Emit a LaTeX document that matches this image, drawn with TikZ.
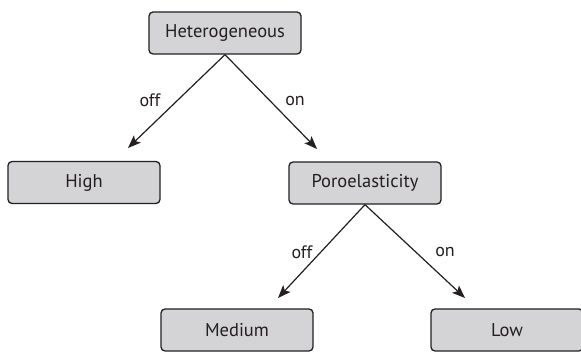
\documentclass[tikz,border=0pt]{standalone}
\usepackage{fontspec}
\setmainfont{PT Sans}
\usepackage{xcolor}
\usetikzlibrary{arrows.meta}

\definecolor{boxgray}{RGB}{212,212,214}
\definecolor{edgegray}{RGB}{35,31,32}

\begin{document}
\begin{tikzpicture}[x=1pt, y=-1pt,
    statebox/.style={draw=edgegray, fill=boxgray, line width=1.3pt, rounded corners=4pt,
        minimum width=152pt, minimum height=42pt, inner sep=0pt, text=edgegray,
        font=\fontsize{18.5}{22}\selectfont},
    branch/.style={-{Stealth[length=13pt, width=10pt, inset=3pt]}, line width=1.2pt, draw=edgegray},
    tag/.style={font=\fontsize{18}{22}\selectfont, text=edgegray}]
    \useasboundingbox (0,0) rectangle (581,352);

    % boxes
    \node[statebox] at (225, 33) (het) {Heterogeneous};
    \node[statebox] at (84, 182.5) (high) {High};
    \node[statebox] at (365, 183) (poro) {Poroelasticity};
    \node[statebox] at (237, 330) (med) {Medium};
    \node[statebox] at (507, 330) (low) {Low};

    % arrow tips
    \coordinate (t1) at (128, 148);
    \coordinate (t2) at (317, 149);
    \coordinate (t3) at (278, 298);
    \coordinate (t4) at (465, 298);

    \draw[branch] (het.south) -- (t1);
    \draw[branch] (het.south) -- (t2);
    \draw[branch] (poro.south) -- (t3);
    \draw[branch] (poro.south) -- (t4);

    \node[tag] at (150, 100) (l1) {off};
    \node[tag] at (295, 101) (l2) {on};
    \node[tag] at (302, 252) (l3) {off};
    \node[tag] at (445, 252) (l4) {on};
\end{tikzpicture}
\end{document}
